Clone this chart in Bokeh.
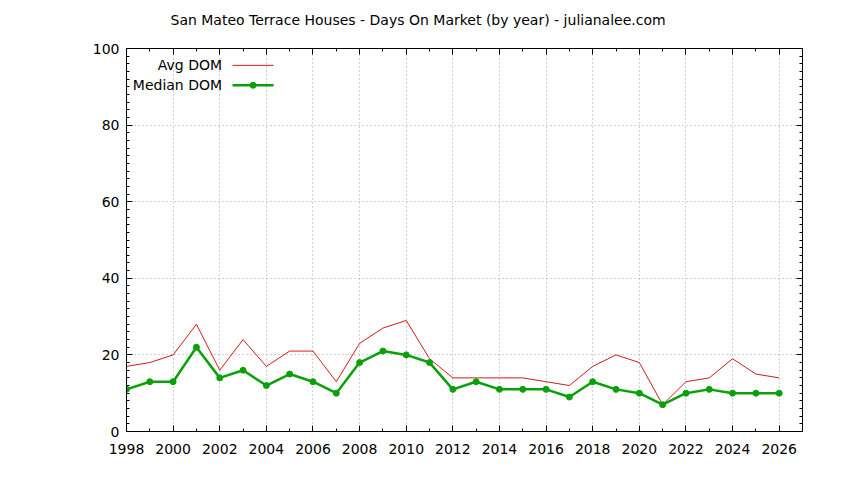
from bokeh.plotting import figure
from bokeh.models import (Range1d, SingleIntervalTicker, LinearAxis, Label, Arrow,
                          CustomJSTickFormatter)
from bokeh.embed import file_html
from bokeh.resources import INLINE

# ---- data ----
years = list(range(1998, 2027))
avg_dom = [17, 18, 20, 28, 16, 24, 17, 21, 21, 13, 23, 27, 29, 19, 14,
           14, 14, 14, 13, 12, 17, 20, 18, 7, 13, 14, 19, 15, 14]
median_dom = [11, 13, 13, 22, 14, 16, 12, 15, 13, 10, 18, 21, 20, 18, 11,
              13, 11, 11, 11, 9, 13, 11, 10, 7, 10, 11, 10, 10, 10]
series_names = ["Avg DOM", "Median DOM"]
title_text = "San Mateo Terrace Houses - Days On Market (by year) - julianalee.com"

# ---- style ----
FONT = "DejaVu Sans"
RED = "#d41a1a"
GREEN = "#0aa00a"
GRID = "#a0a0a0"

p = figure(width=836, height=472, output_backend="svg", toolbar_location=None,
           x_range=Range1d(1998, 2027), y_range=Range1d(0, 100),
           min_border_left=126, min_border_right=34, min_border_top=48,
           min_border_bottom=41, x_axis_location=None, y_axis_location=None)
p.background_fill_color = "white"
p.border_fill_color = "white"
p.outline_line_color = "black"
p.outline_line_width = 1

# trailing empty line lifts the title further from the frame (gnuplot spacing)
p.title.text = title_text + "\n"
p.title.text_font = FONT
p.title.text_font_size = "14px"
p.title.text_font_style = "normal"
p.title.text_color = "black"
p.title.align = "left"
p.title.offset = 44
p.title.vertical_align = "bottom"
p.title.standoff = 10

xt = SingleIntervalTicker(interval=2, num_minor_ticks=2)
yt = SingleIntervalTicker(interval=20, num_minor_ticks=10)
blank = CustomJSTickFormatter(code="return ''")

def style_axis(ax, labels=True):
    ax.axis_line_color = "black"
    ax.major_tick_in = 6
    ax.major_tick_out = 0
    ax.minor_tick_in = 3
    ax.minor_tick_out = 0
    ax.major_tick_line_color = "black"
    ax.minor_tick_line_color = "black"
    ax.major_label_text_font = FONT
    ax.major_label_text_font_size = "14px"
    ax.major_label_text_color = "black"
    if not labels:
        ax.formatter = blank
        ax.major_label_text_font_size = "1px"
        ax.major_label_standoff = 0

xb = LinearAxis(ticker=xt)
style_axis(xb)
xb.major_label_standoff = 12
p.add_layout(xb, "below")
yl = LinearAxis(ticker=yt)
style_axis(yl)
yl.major_label_standoff = 7
p.add_layout(yl, "left")
xa = LinearAxis(ticker=xt)
style_axis(xa, labels=False)
p.add_layout(xa, "above")
yr = LinearAxis(ticker=yt)
style_axis(yr, labels=False)
p.add_layout(yr, "right")

p.xgrid.ticker = xt
p.ygrid.ticker = yt
for g in (p.xgrid, p.ygrid):
    g.grid_line_color = GRID
    g.grid_line_dash = "1 3"
    g.grid_line_width = 1

p.line(years, avg_dom, line_color=RED, line_width=1)
p.line(years, median_dom, line_color=GREEN, line_width=2.5)
p.scatter(years, median_dom, marker="circle", size=6, fill_color=GREEN,
          line_color=GREEN)

# ---- legend (manual, gnuplot style: text right-aligned, sample at right) ----
LEG_TEXT_X = 2002.1
LEG_S0, LEG_S1 = 2002.55, 2004.31
LEG_Y = [95.6, 90.4]
for name, yy, col, lw in zip(series_names, LEG_Y, [RED, GREEN], [1, 2.5]):
    p.add_layout(Label(x=LEG_TEXT_X, y=yy, text=name, text_align="right",
                       text_baseline="middle", text_font=FONT,
                       text_font_size="14px", text_color="black"))
    p.add_layout(Arrow(start=None, end=None, x_start=LEG_S0, y_start=yy,
                       x_end=LEG_S1, y_end=yy, line_color=col, line_width=lw))
p.scatter([(LEG_S0 + LEG_S1) / 2], [LEG_Y[1]], marker="circle", size=6,
          fill_color=GREEN, line_color=GREEN)

open("out.html", "w").write(file_html(p, INLINE))
